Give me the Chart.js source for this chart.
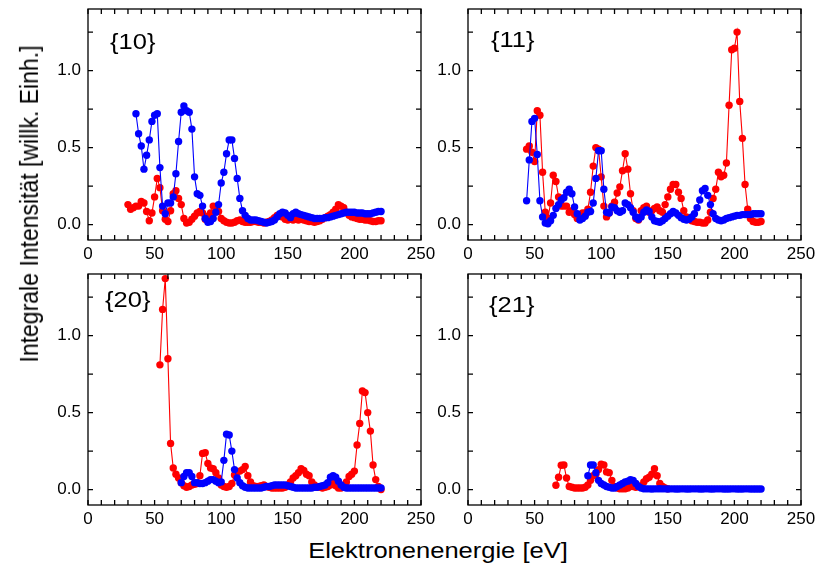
<!DOCTYPE html>
<html>
<head>
<meta charset="utf-8">
<script src="https://cdn.jsdelivr.net/npm/chart.js@4.4.1/dist/chart.umd.min.js"></script>
<style>
  body { margin: 0; background: #fff; }
  #fig { position: relative; width: 815px; height: 569px; overflow: hidden;
         font-family: Arial, "Liberation Sans", sans-serif; color: #000; }
  .panel { position: absolute; }
  .tag { position: absolute; font-size: 22px; line-height: 22px; white-space: nowrap;
         transform: scaleX(1.16); transform-origin: 0 0; }
  .title { position: absolute; font-size: 22px; line-height: 22px; white-space: nowrap; }
</style>
</head>
<body>
<div id="fig">
  <canvas class="panel" id="p10" width="411" height="281" style="left:30px;top:-11px"></canvas>
  <canvas class="panel" id="p11" width="411" height="281" style="left:410px;top:-11px"></canvas>
  <canvas class="panel" id="p20" width="411" height="281" style="left:30px;top:254px"></canvas>
  <canvas class="panel" id="p21" width="411" height="281" style="left:410px;top:254px"></canvas>
  <div class="tag" style="left:110px;top:31px">{10}</div>
  <div class="tag" style="left:491px;top:29px">{11}</div>
  <div class="tag" style="left:105px;top:289px">{20}</div>
  <div class="tag" style="left:489px;top:294px">{21}</div>
  <div class="title" style="left:438px;top:551px;transform:translate(-50%,-50%) scaleX(1.16)">Elektronenenergie [eV]</div>
  <div class="title" style="left:29px;top:204px;font-size:23px;transform:translate(-50%,-50%) scaleX(1.16) rotate(-90deg)">Integrale Intensität [willk. Einh.]</div>
</div>
<script>
// Elektronenenergie (eV), gemeinsames Raster fuer alle Reihen
const energy = [
  30, 32, 34, 36, 38, 40, 42, 44, 46, 48,
  50, 52, 54, 56, 58, 60, 62, 64, 66, 68,
  70, 72, 74, 76, 78, 80, 82, 84, 86, 88,
  90, 92, 94, 96, 98, 100, 102, 104, 106, 108,
  110, 112, 114, 116, 118, 120, 122, 124, 126, 128,
  130, 132, 134, 136, 138, 140, 142, 144, 146, 148,
  150, 152, 154, 156, 158, 160, 162, 164, 166, 168,
  170, 172, 174, 176, 178, 180, 182, 184, 186, 188,
  190, 192, 194, 196, 198, 200, 202, 204, 206, 208,
  210, 212, 214, 216, 218, 220
];

// {10}
const red10 = [
  0.13, 0.10, 0.11, 0.12, 0.12, 0.15, 0.14, 0.085, 0.025, 0.075,
  0.18, 0.30, 0.24, 0.09, 0.035, 0.02, 0.09, 0.20, 0.22, 0.17,
  0.13, 0.04, 0.01, 0.015, 0.035, 0.055, 0.075, 0.085, 0.075, 0.035,
  0.055, 0.075, 0.12, 0.115, 0.085, 0.04, 0.025, 0.015, 0.01, 0.01,
  0.015, 0.025, 0.03, 0.02, 0.015, 0.015, 0.015, 0.02, 0.02, 0.015,
  0.015, 0.01, 0.015, 0.02, 0.03, 0.045, 0.06, 0.065, 0.05, 0.035,
  0.03, 0.035, 0.03, 0.035, 0.03, 0.035, 0.03, 0.025, 0.02, 0.02,
  0.015, 0.02, 0.025, 0.035, 0.045, 0.055, 0.065, 0.08, 0.10, 0.13,
  0.12, 0.11, 0.08, 0.06, 0.05, 0.045, 0.04, 0.035, 0.035, 0.03,
  0.03, 0.025, 0.02, 0.02, 0.025, 0.025
];
const blue10 = [
  null, null, null,
  0.72, 0.59, 0.51, 0.36, 0.45, 0.55, 0.67, 0.71, 0.72, 0.37,
  0.12, 0.07, 0.14, 0.14, 0.18, 0.33, 0.54, 0.73, 0.77, 0.74,
  0.73, 0.62, 0.31, 0.20, 0.19, 0.12, 0.04, 0.015, 0.02, 0.04,
  0.08, 0.13, 0.27, 0.34, 0.46, 0.55, 0.55, 0.43, 0.30, 0.17,
  0.09, 0.06, 0.04, 0.03, 0.03, 0.03, 0.025, 0.02, 0.015, 0.01,
  0.015, 0.02, 0.03, 0.05, 0.07, 0.08, 0.075, 0.06, 0.045, 0.07,
  0.08, 0.07, 0.065, 0.06, 0.055, 0.05, 0.045, 0.04, 0.04, 0.04,
  0.04, 0.045, 0.045, 0.05, 0.055, 0.06, 0.065, 0.07, 0.075, 0.08,
  0.08, 0.08, 0.08, 0.075, 0.075, 0.075, 0.07, 0.07, 0.07, 0.075,
  0.08, 0.085, 0.085
];

// {11}
const red11 = [
  null, null, null, null, null, null, null,
  0.49, 0.51, 0.47, 0.41, 0.74, 0.71, 0.34, 0.08, 0.04, 0.14,
  0.32, 0.28, 0.18, 0.12, 0.12, 0.12, 0.08, 0.09, 0.065, 0.04,
  0.055, 0.075, 0.075, 0.10, 0.21, 0.38, 0.50, 0.49, 0.31, 0.12,
  0.05, 0.075, 0.12, 0.145, 0.205, 0.245, 0.35, 0.46, 0.36, 0.20,
  0.09, 0.04, 0.03, 0.09, 0.11, 0.12, 0.08, 0.09, 0.105, 0.115,
  0.09, 0.08, 0.13, 0.18, 0.23, 0.26, 0.26, 0.21, 0.17, 0.09,
  0.05, 0.035, 0.025, 0.02, 0.015, 0.015, 0.01, 0.01, 0.03, 0.08,
  0.17, 0.23, 0.34, 0.31, 0.32, 0.40, 0.775, 1.135, 1.145, 1.25,
  0.80, 0.56, 0.26, 0.10, 0.04, 0.02, 0.015, 0.015, 0.02
];
const blue11 = [
  null, null, null, null, null, null, null,
  0.155, 0.42, 0.67, 0.69, 0.455, 0.155, 0.05, 0.01, 0.005, 0.025,
  0.06, 0.105, 0.13, 0.16, 0.175, 0.21, 0.23, 0.20, 0.115, 0.07,
  0.03, 0.04, 0.055, 0.08, 0.085, 0.14, 0.30, 0.48, 0.48, 0.23,
  0.08, 0.075, 0.115, 0.11, 0.09, 0.08, 0.09, 0.14, 0.13, 0.11,
  0.08, 0.05, 0.035, 0.05, 0.08, 0.095, 0.085, 0.05, 0.025, 0.02,
  0.015, 0.025, 0.04, 0.055, 0.07, 0.085, 0.075, 0.06, 0.045, 0.035,
  0.03, 0.035, 0.05, 0.07, 0.11, 0.16, 0.22, 0.235, 0.19, 0.13,
  0.07, 0.04, 0.03, 0.025, 0.03, 0.04, 0.045, 0.05, 0.055, 0.06,
  0.06, 0.065, 0.065, 0.065, 0.065, 0.07, 0.07, 0.07, 0.07
];

// {20}
const red20 = [
  null, null, null, null, null, null, null, null, null, null, null, null,
  0.81, 1.17, 1.37, 0.85, 0.30, 0.14, 0.10, 0.075, 0.045, 0.025,
  0.015, 0.02, 0.03, 0.035, 0.04, 0.09, 0.235, 0.24, 0.17, 0.14,
  0.135, 0.11, 0.075, 0.03, 0.02, 0.015, 0.02, 0.04, 0.095, 0.115,
  0.12, 0.13, 0.15, 0.09, 0.05, 0.025, 0.02, 0.02, 0.025, 0.03,
  0.02, 0.015, 0.01, 0.01, 0.01, 0.01, 0.01, 0.015, 0.03, 0.05,
  0.075, 0.09, 0.11, 0.135, 0.125, 0.10, 0.09, 0.05, 0.03, 0.015,
  0.015, 0.01, 0.015, 0.02, 0.03, 0.04, 0.025, 0.01, 0.01, 0.02,
  0.05, 0.085, 0.10, 0.12, 0.29, 0.43, 0.64, 0.63, 0.50, 0.38,
  0.16, 0.065, 0.02, 0.0
];
const blue20 = [
  null, null, null, null, null, null, null, null, null, null,
  null, null, null, null, null, null, null, null, null, null,
  0.045, 0.085, 0.11, 0.11, 0.085, 0.045, 0.045, 0.04, 0.04, 0.045,
  0.055, 0.065, 0.065, 0.055, 0.045, 0.05, 0.19, 0.36, 0.355, 0.25,
  0.13, 0.075, 0.045, 0.025, 0.015, 0.01, 0.01, 0.01, 0.01, 0.01,
  0.01, 0.015, 0.02, 0.02, 0.025, 0.03, 0.03, 0.03, 0.03, 0.03,
  0.025, 0.02, 0.015, 0.01, 0.01, 0.01, 0.01, 0.01, 0.01, 0.01,
  0.015, 0.015, 0.02, 0.025, 0.03, 0.045, 0.08, 0.09, 0.08, 0.055,
  0.03, 0.015, 0.01, 0.01, 0.01, 0.01, 0.01, 0.01, 0.01, 0.01,
  0.01, 0.01, 0.01, 0.01, 0.01, 0.01
];

// {21}
const red21 = [
  null, null, null, null, null, null, null, null, null, null,
  null, null, null, null, null, null, null, null,
  0.028, 0.08, 0.158, 0.16, 0.075, 0.02, 0.015, 0.01, 0.01, 0.01,
  0.01, 0.015, 0.03, 0.06, 0.09, 0.10, 0.13, 0.165, 0.16, 0.115,
  0.11, 0.06, 0.02, 0.01, 0.005, 0.005, 0.005, 0.01, 0.02, 0.02,
  0.015, 0.02, 0.025, 0.05, 0.07, 0.08, 0.10, 0.135, 0.09, 0.04,
  0.02, 0.01, 0.005
];
const blue21 = [
  null, null, null, null, null, null, null, null, null, null,
  null, null, null, null, null, null, null, null, null, null,
  null, null, null, null, null, null, null, null, null, null,
  0.09, 0.16, 0.16, 0.11, 0.06, 0.04, 0.03, 0.02, 0.015, 0.01,
  0.01, 0.02, 0.03, 0.04, 0.05, 0.055, 0.065, 0.06, 0.04, 0.02,
  0.01, 0.006, 0.005, 0.005, 0.004, 0.005, 0.005, 0.006, 0.005, 0.005,
  0.004, 0.005, 0.005, 0.004, 0.004, 0.005, 0.005, 0.004, 0.004, 0.005,
  0.005, 0.005, 0.004, 0.004, 0.005, 0.005, 0.004, 0.004, 0.005, 0.005,
  0.005, 0.004, 0.004, 0.004, 0.005, 0.005, 0.004, 0.004, 0.004, 0.005,
  0.005, 0.004, 0.004, 0.004, 0.004, 0.004
];

const xTicks = [0, 10, 20, 30, 40, 50, 60, 70, 80, 90, 100, 110, 120, 130, 140,
  150, 160, 170, 180, 190, 200, 210, 220, 230, 240, 250];
const yTicks = [0, 0.25, 0.5, 0.75, 1.0, 1.25];

const RED = '#ff0000';
const BLUE = '#0000ff';
const FONT = { family: 'Arial, "Liberation Sans", sans-serif', size: 17 };

function points(values) {
  const pts = [];
  values.forEach((v, i) => {
    if (v !== null) pts.push({ x: energy[i], y: v });
  });
  return pts;
}

// Rahmen mit Ticks nach innen auf allen vier Seiten
const framePlugin = {
  id: 'frame',
  afterDraw(chart) {
    const { ctx, chartArea: a, scales } = chart;
    const len = 5;
    ctx.save();
    ctx.strokeStyle = '#000';
    ctx.lineWidth = 1.3;
    ctx.strokeRect(a.left, a.top, a.right - a.left, a.bottom - a.top);
    ctx.beginPath();
    scales.x.ticks.forEach(t => {
      const px = scales.x.getPixelForValue(t.value);
      ctx.moveTo(px, a.bottom); ctx.lineTo(px, a.bottom - len);
      ctx.moveTo(px, a.top); ctx.lineTo(px, a.top + len);
    });
    scales.y.ticks.forEach(t => {
      const py = scales.y.getPixelForValue(t.value);
      ctx.moveTo(a.left, py); ctx.lineTo(a.left + len, py);
      ctx.moveTo(a.right, py); ctx.lineTo(a.right - len, py);
    });
    ctx.stroke();
    ctx.restore();
  }
};

function series(values, color) {
  return {
    data: points(values),
    borderColor: color,
    backgroundColor: color,
    borderWidth: 1.1,
    tension: 0,
    pointRadius: 3.7,
    pointHoverRadius: 3.7,
    pointBorderWidth: 0
  };
}

function makeChart(id, red, blue) {
  return new Chart(document.getElementById(id), {
    type: 'line',
    data: { datasets: [series(blue, BLUE), series(red, RED)] },
    options: {
      responsive: false,
      animation: false,
      devicePixelRatio: 1,
      events: [],
      layout: { padding: { top: 20, right: 20, bottom: 0, left: 0 } },
      plugins: { legend: { display: false }, tooltip: { enabled: false } },
      scales: {
        x: {
          type: 'linear', min: 0, max: 250,
          afterBuildTicks: s => { s.ticks = xTicks.map(v => ({ value: v })); },
          afterFit: s => { s.height = 30; },
          grid: { display: false, drawTicks: false },
          border: { display: false },
          ticks: {
            autoSkip: false, maxRotation: 0, padding: 4, color: '#000', font: FONT,
            callback: v => (v % 50 === 0 ? String(v) : '')
          }
        },
        y: {
          type: 'linear', min: -0.1, max: 1.4,
          afterBuildTicks: s => { s.ticks = yTicks.map(v => ({ value: v })); },
          afterFit: s => { s.width = 58; },
          grid: { display: false, drawTicks: false },
          border: { display: false },
          ticks: {
            autoSkip: false, padding: 7, color: '#000', font: FONT,
            callback: v => (Math.abs(v * 2 - Math.round(v * 2)) < 1e-9 ? v.toFixed(1) : '')
          }
        }
      }
    },
    plugins: [framePlugin]
  });
}

makeChart('p10', red10, blue10);
makeChart('p11', red11, blue11);
makeChart('p20', red20, blue20);
makeChart('p21', red21, blue21);
</script>
</body>
</html>
